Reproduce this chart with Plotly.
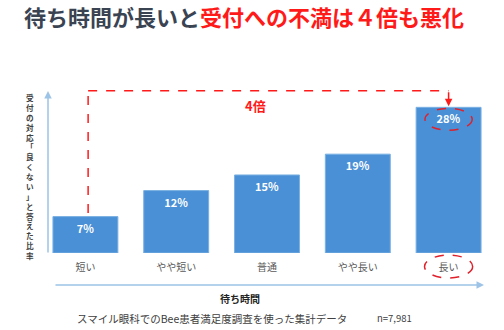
import plotly.graph_objects as go

# Survey result: share answering reception was "not good", by waiting time
categories = ["短い", "やや短い", "普通", "やや長い", "長い"]
values = [7, 12, 15, 19, 28]
value_labels = [f"{v}%" for v in values]

y_axis_title = "受付の対応「良くない」と答えた比率"
x_axis_title = "待ち時間"
title_dark = "待ち時間が長いと"
title_red = "受付への不満は４倍も悪化"
ratio_label = "4倍"
footnote = "スマイル眼科でのBee患者満足度調査を使った集計データ"
sample_note = "n=7,981"

FONT = "Noto Sans CJK JP"
RED = "#ff1a1a"
AXIS_BLUE = "#9dc3e6"

W, H = 504, 330
ML, MR, MT, MB = 40, 10, 60, 77
YMAX = 37.1

plot_w = W - ML - MR
plot_h = H - MT - MB


def px(x):
    return (x - ML) / plot_w


def py(y):
    return (H - MB - y) / plot_h


fig = go.Figure()

fig.add_trace(go.Bar(
    x=categories,
    y=values,
    text=value_labels,
    textposition="inside",
    insidetextanchor="end",
    textfont=dict(family=FONT, size=11, color="white"),
    texttemplate="<b>%{text}</b>",
    marker=dict(color="#4a90d6", line=dict(color="#7ab0e2", width=1)),
    hoverinfo="skip",
))

annotations = []
shapes = []

# Title
annotations.append(dict(
    xref="paper", yref="paper", x=px(22), y=py(16), xanchor="left", yanchor="middle",
    text=f"<b><span style='color:#3a4352'>{title_dark}</span><span style='color:{RED}'>{title_red}</span></b>",
    showarrow=False, font=dict(family=FONT, size=22),
))

# Vertical y-axis title, one upright character per line
annotations.append(dict(
    xref="paper", yref="paper", x=px(30), y=py(176), xanchor="center", yanchor="middle",
    text="<b>" + "<br>".join(y_axis_title) + "</b>", showarrow=False,
    font=dict(family=FONT, size=7.6, color="#404040"),
))

# Axis arrows
annotations.append(dict(
    xref="paper", yref="paper", x=px(48), y=py(91), ax=0, ay=163,
    axref="pixel", ayref="pixel", text="", showarrow=True,
    arrowhead=2, arrowsize=1, arrowwidth=1.5, arrowcolor=AXIS_BLUE,
))
annotations.append(dict(
    xref="paper", yref="paper", x=px(484), y=py(285), ax=-430, ay=0,
    axref="pixel", ayref="pixel", text="", showarrow=True,
    arrowhead=2, arrowsize=1, arrowwidth=1.5, arrowcolor=AXIS_BLUE,
))

# X-axis title and footnotes
annotations.append(dict(
    xref="paper", yref="paper", x=px(240), y=py(298), yanchor="middle",
    text=f"<b>{x_axis_title}</b>",
    showarrow=False, font=dict(family=FONT, size=10, color="#222222"),
))
annotations.append(dict(
    xref="paper", yref="paper", x=px(75), y=py(318), xanchor="left", yanchor="middle",
    text=footnote, showarrow=False, font=dict(family=FONT, size=10.5, color="#404040"),
))
annotations.append(dict(
    xref="paper", yref="paper", x=px(375), y=py(318), xanchor="left", yanchor="middle",
    text=sample_note, showarrow=False, font=dict(family=FONT, size=9.5, color="#404040"),
))

# Red dashed bracket from the shortest to the longest wait
bracket_y = 31.2
first, last = 0, len(values) - 1
shapes.append(dict(type="line", xref="x", yref="y", x0=first + 0.03, x1=first + 0.03,
                   y0=values[first] + 0.7, y1=bracket_y,
                   line=dict(color=RED, width=1.5, dash="dash")))
shapes.append(dict(type="line", xref="x", yref="y", x0=first + 0.03, x1=last,
                   y0=bracket_y, y1=bracket_y,
                   line=dict(color=RED, width=1.5, dash="dash")))
annotations.append(dict(
    xref="x", yref="y", x=last, y=values[last] + 0.2, ax=last, ay=bracket_y,
    axref="x", ayref="y", text="", showarrow=True,
    arrowhead=2, arrowsize=1, arrowwidth=1.5, arrowcolor=RED,
))
annotations.append(dict(
    xref="paper", yref="paper", x=px(255), y=py(105), yanchor="middle", text=f"<b>{ratio_label}</b>",
    showarrow=False, font=dict(family=FONT, size=13, color=RED),
))

# Dashed ellipses around the longest-wait label and category
shapes.append(dict(type="circle", xref="x", yref="y",
                   x0=last - 0.26, x1=last + 0.26,
                   y0=values[last] - 4.4, y1=values[last] - 0.2,
                   line=dict(color="#e0202a", width=1.5, dash="dash")))
shapes.append(dict(type="circle", xref="x", yref="paper",
                   x0=last - 0.265, x1=last + 0.265,
                   y0=py(278), y1=py(255),
                   line=dict(color="#e0202a", width=1.5, dash="dash")))

fig.update_layout(
    width=W, height=H,
    margin=dict(l=ML, r=MR, t=MT, b=MB),
    paper_bgcolor="white", plot_bgcolor="white",
    showlegend=False,
    bargap=0.285,
    annotations=annotations,
    shapes=shapes,
    font=dict(family=FONT),
    xaxis=dict(
        range=[-0.5, len(categories) - 0.5],
        showline=False, showgrid=False, zeroline=False,
        ticks="outside", ticklen=5, tickcolor="rgba(0,0,0,0)",
        tickfont=dict(family=FONT, size=10, color="#595959"),
    ),
    yaxis=dict(range=[0, YMAX], visible=False),
)

fig.write_html("out.html")
